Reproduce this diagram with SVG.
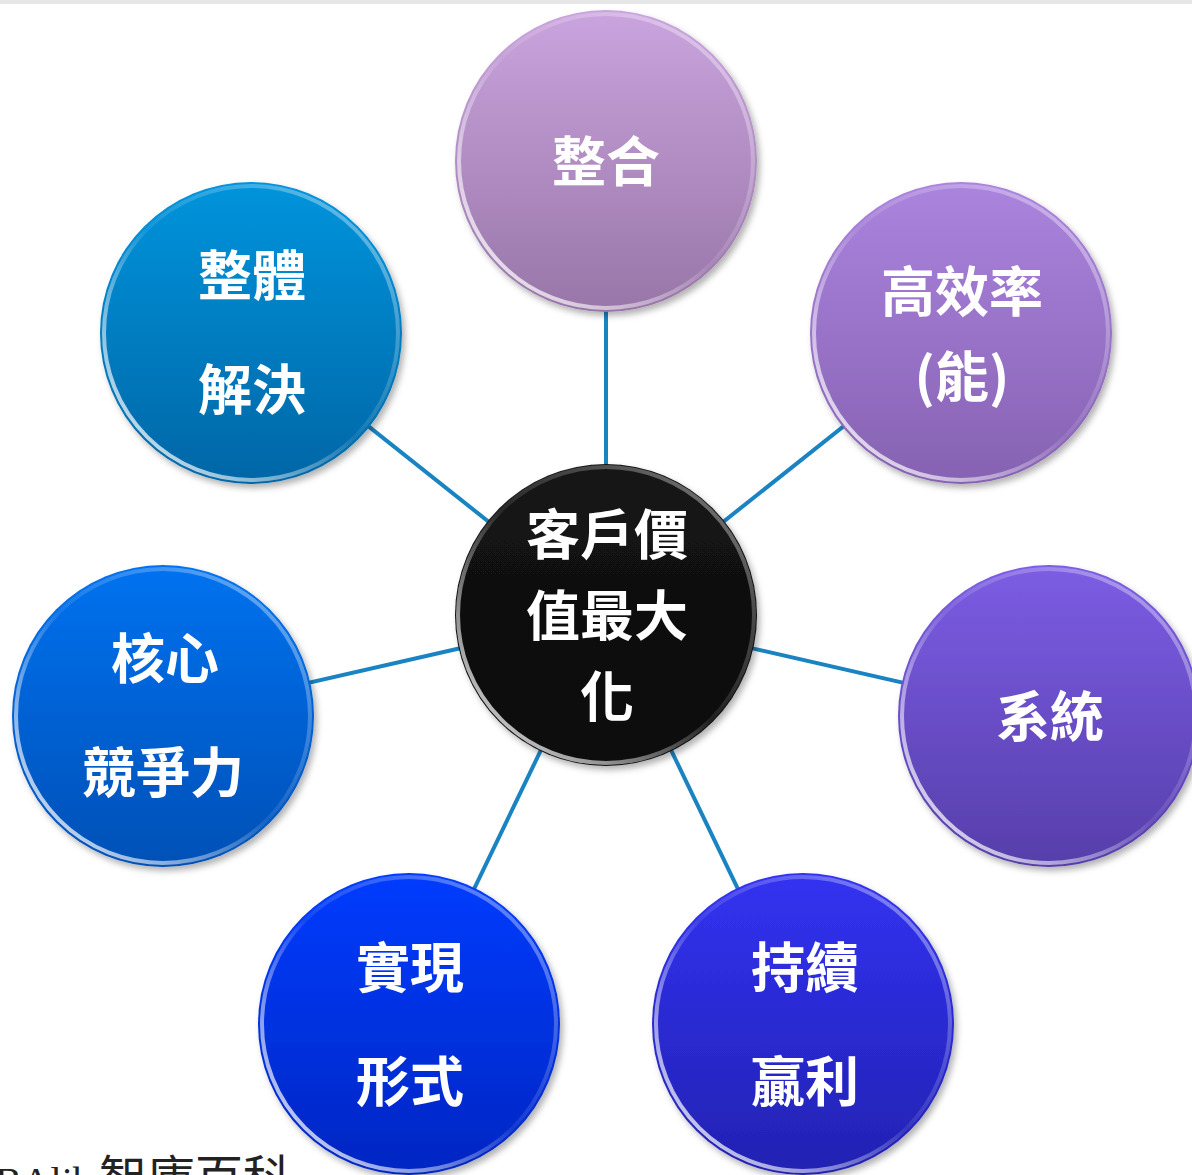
<svg xmlns="http://www.w3.org/2000/svg" width="1192" height="1175" viewBox="0 0 1192 1175">
<style>
.lbl{font-family:"Noto Sans CJK TC","Noto Sans CJK SC",sans-serif;font-weight:700;font-size:54px;fill:#ffffff;text-anchor:middle}
.link{stroke:#1a84c2;stroke-width:4;fill:none}
.rim{fill:none;stroke:url(#rim);stroke-width:4}
.src{font-family:"Liberation Serif","Noto Sans CJK TC",serif;fill:#222222}
</style>
<defs>
<filter id="shadow" x="-20%" y="-20%" width="140%" height="140%">
<feDropShadow dx="3" dy="4" stdDeviation="3" flood-color="#000000" flood-opacity="0.3"/>
</filter>
<linearGradient id="rim" x1="0" y1="1" x2="1" y2="0">
<stop offset="0" stop-color="#ffffff" stop-opacity="0.95"/>
<stop offset="0.25" stop-color="#ffffff" stop-opacity="0.55"/>
<stop offset="0.5" stop-color="#ffffff" stop-opacity="0.08"/>
<stop offset="0.75" stop-color="#ffffff" stop-opacity="0.25"/>
<stop offset="1" stop-color="#ffffff" stop-opacity="0.5"/>
</linearGradient>
<linearGradient id="gTop" x1="0" y1="0" x2="0" y2="1"><stop offset="0" stop-color="#caa4de"/><stop offset="1" stop-color="#9876a8"/></linearGradient>
<linearGradient id="gTL" x1="0" y1="0" x2="0" y2="1"><stop offset="0" stop-color="#0394dc"/><stop offset="1" stop-color="#0066a6"/></linearGradient>
<linearGradient id="gTR" x1="0" y1="0" x2="0" y2="1"><stop offset="0" stop-color="#ab84de"/><stop offset="1" stop-color="#8662b2"/></linearGradient>
<linearGradient id="gL" x1="0" y1="0" x2="0" y2="1"><stop offset="0" stop-color="#0072f0"/><stop offset="1" stop-color="#0050b6"/></linearGradient>
<linearGradient id="gR" x1="0" y1="0" x2="0" y2="1"><stop offset="0" stop-color="#7c5de4"/><stop offset="1" stop-color="#563eaa"/></linearGradient>
<linearGradient id="gBL" x1="0" y1="0" x2="0" y2="1"><stop offset="0" stop-color="#003cff"/><stop offset="1" stop-color="#0026c2"/></linearGradient>
<linearGradient id="gBR" x1="0" y1="0" x2="0" y2="1"><stop offset="0" stop-color="#3232f2"/><stop offset="1" stop-color="#2222b2"/></linearGradient>
<linearGradient id="gC" x1="0" y1="0" x2="0" y2="1"><stop offset="0" stop-color="#141414"/><stop offset="1" stop-color="#0c0c0c"/></linearGradient>
</defs>
<rect x="0" y="0" width="1192" height="1175" fill="#ffffff"/>
<rect x="0" y="0" width="1192" height="4" fill="#e6e6e6"/>

<g id="connectors">
<line class="link" x1="606" y1="615" x2="606" y2="161"/>
<line class="link" x1="606" y1="615" x2="251" y2="333"/>
<line class="link" x1="606" y1="615" x2="961" y2="333"/>
<line class="link" x1="606" y1="615" x2="163" y2="716"/>
<line class="link" x1="606" y1="615" x2="1049" y2="716"/>
<line class="link" x1="606" y1="615" x2="409" y2="1024"/>
<line class="link" x1="606" y1="615" x2="803" y2="1024"/>
</g>

<g id="node-top">
<circle cx="606" cy="161" r="151" fill="url(#gTop)" filter="url(#shadow)"/>
<circle class="rim" cx="606" cy="161" r="147"/>
<text class="lbl" x="606" y="182">整合</text>
</g>

<g id="node-topleft">
<circle cx="251" cy="333" r="151" fill="url(#gTL)" filter="url(#shadow)"/>
<circle class="rim" cx="251" cy="333" r="147"/>
<text class="lbl" x="252" y="296">整體</text>
<text class="lbl" x="252" y="410">解決</text>
</g>

<g id="node-topright">
<circle cx="961" cy="333" r="151" fill="url(#gTR)" filter="url(#shadow)"/>
<circle class="rim" cx="961" cy="333" r="147"/>
<text class="lbl" x="962" y="312">高效率</text>
<text class="lbl" x="962" y="397">(能)</text>
</g>

<g id="node-left">
<circle cx="163" cy="716" r="151" fill="url(#gL)" filter="url(#shadow)"/>
<circle class="rim" cx="163" cy="716" r="147"/>
<text class="lbl" x="165" y="679">核心</text>
<text class="lbl" x="163" y="793">競爭力</text>
</g>

<g id="node-right">
<circle cx="1049" cy="716" r="151" fill="url(#gR)" filter="url(#shadow)"/>
<circle class="rim" cx="1049" cy="716" r="147"/>
<text class="lbl" x="1050" y="737">系統</text>
</g>

<g id="node-bottomleft">
<circle cx="409" cy="1024" r="151" fill="url(#gBL)" filter="url(#shadow)"/>
<circle class="rim" cx="409" cy="1024" r="147"/>
<text class="lbl" x="410" y="988">實現</text>
<text class="lbl" x="410" y="1102">形式</text>
</g>

<g id="node-bottomright">
<circle cx="803" cy="1024" r="151" fill="url(#gBR)" filter="url(#shadow)"/>
<circle class="rim" cx="803" cy="1024" r="147"/>
<text class="lbl" x="805" y="988">持續</text>
<text class="lbl" x="805" y="1102">贏利</text>
</g>

<g id="node-center">
<circle cx="606" cy="615" r="151" fill="url(#gC)" filter="url(#shadow)"/>
<circle class="rim" cx="606" cy="615" r="148" stroke-width="3"/>
<text class="lbl" x="607" y="555">客戶價</text>
<text class="lbl" x="607" y="636">值最大</text>
<text class="lbl" x="607" y="717">化</text>
</g>

<text class="src" y="1195"><tspan x="-5" font-size="40">BAlib</tspan><tspan x="99" font-size="48" font-family="Noto Sans CJK TC, serif">智庫百科</tspan></text>
</svg>
